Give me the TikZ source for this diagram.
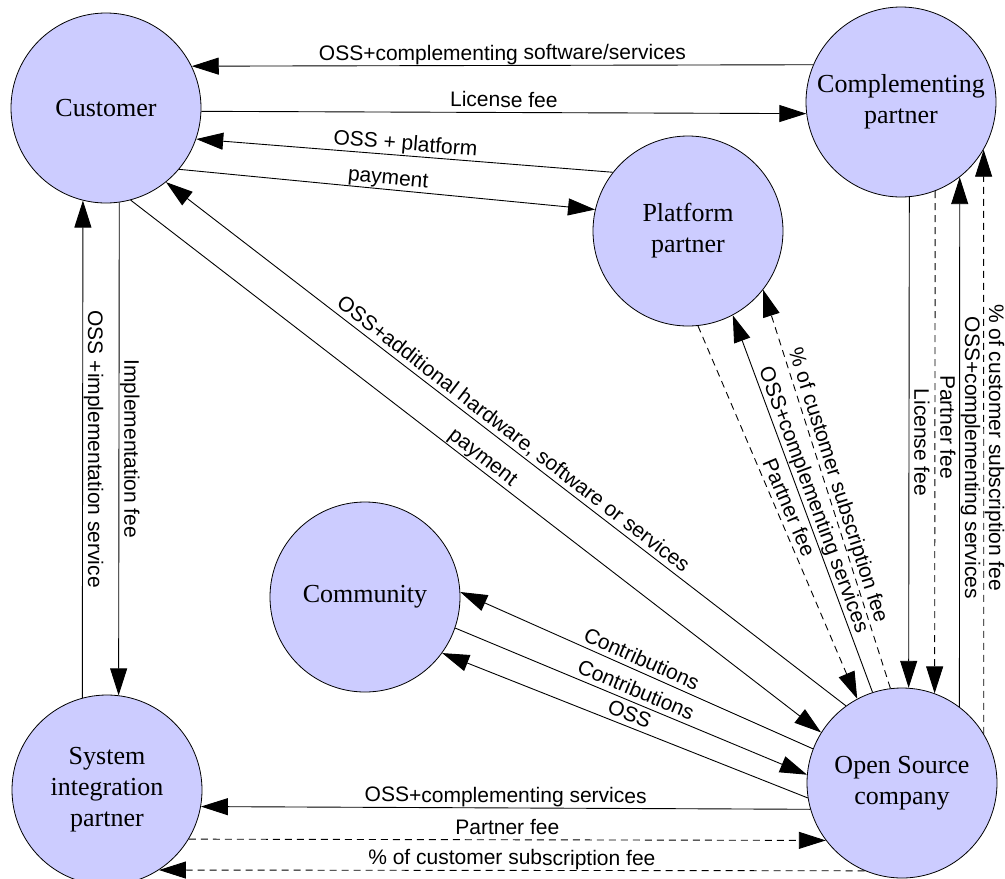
\documentclass[tikz,border=0pt]{standalone}
\usepackage{fontspec}
\setmainfont{Liberation Serif}
\newfontfamily\lblfam{Liberation Sans}
\usetikzlibrary{arrows.meta}
\definecolor{partyfill}{RGB}{204,204,255}
\newcommand\partyfont{\fontsize{26}{31}\selectfont}
\newcommand\lblfont{\lblfam\fontsize{21}{25}\selectfont}
\begin{document}
\begin{tikzpicture}[x=1pt,y=-1pt,
  party/.style={circle,draw=black,line width=0.8pt,fill=partyfill,minimum size=190pt,inner sep=0pt,align=center,font=\partyfont},
  flow/.style={draw=black,line width=0.9pt,-{Triangle[length=27pt,width=17pt]}},
  fee/.style={flow,dash pattern=on 7pt off 5pt},
  lbl/.style={font=\lblfont,inner sep=0pt,text height=15pt,text depth=5pt},
  along/.style={lbl,sloped,above},
  down/.style={lbl,rotate=-90,anchor=south}]
\useasboundingbox (0,0) rectangle (1005,879);

% actors of the ecosystem
\node[party] (cust) at (106,108) {Customer};
\node[party] (comp) at (901,102) {Complementing\\partner};
\node[party] (plat) at (688,231) {Platform\\partner};
\node[party] (comm) at (365,597) {Community};
\node[party] (si)   at (107,790) {System\\integration\\partner};
\node[party] (osc)  at (902,783) {Open Source\\company};

% customer and complementing partner
\draw[flow] (comp.157.73) -- node[along,midway] {OSS+complementing software/services} (cust.26.25);
\draw[flow] (cust.-2.4) -- node[along,midway] {License fee} (comp.-173.96);

% customer and platform partner
\draw[flow] (plat.142.2) -- node[along,midway] {OSS + platform} (cust.-19.6);
\draw[flow] (cust.-40) -- node[along,midway] {payment} (plat.167.5);

% customer and open source company
\draw[flow] (osc.126.2) -- node[along,midway] {OSS+additional hardware, software or services} (cust.-51.9);
\draw[flow] (cust.-75.7) -- node[along,midway] {payment} (osc.148.9);

% customer and system integration partner
\draw[flow] (si.105.27) -- node[down,midway] {OSS +implementation service} (cust.-104.6);
\draw[flow] (cust.-82.74) -- node[down,midway] {Implementation fee} (si.83.35);

% community and open source company
\draw[flow] (osc.159.8) -- node[along,midway] {Contributions} (comm.3);
\draw[flow] (comm.-19) -- node[along,midway] {Contributions} (osc.175.2);
\draw[flow] (osc.-171.6) -- node[along,midway] {OSS} (comm.-36.4);

% system integration partner and open source company
\draw[flow] (osc.-164.73) -- node[along,midway] {OSS+complementing services} (si.-10.9);
\draw[fee] (si.-31.75) -- node[along,midway] {Partner fee} (osc.-143.1);
\draw[fee] (osc.-113.7) -- node[along,midway] {\% of customer subscription fee} (si.-57.4);

% complementing partner and open source company
\draw[flow] (comp.-85.77) -- node[down,midway] {License fee} (osc.86.38);
\draw[fee] (comp.-69.67) -- node[down,pos=0.47] {Partner fee} (osc.70.32);
\draw[flow] (osc.53.13) -- node[down,pos=0.47] {OSS+complementing services} (comp.-52.38);
\draw[fee] (osc.31.49) -- node[down,pos=0.49] {\% of customer subscription fee} (comp.-30.32);

% platform partner and open source company
\draw[fee] (plat.-84.5) -- node[along,midway] {Partner fee} (osc.118.6);
\draw[flow] (osc.108.4) -- node[along,midway] {OSS+complementing services} (plat.-62.6);
\draw[fee] (osc.97.1) -- node[along,midway] {\% of customer subscription fee} (plat.-38.6);
\end{tikzpicture}
\end{document}
